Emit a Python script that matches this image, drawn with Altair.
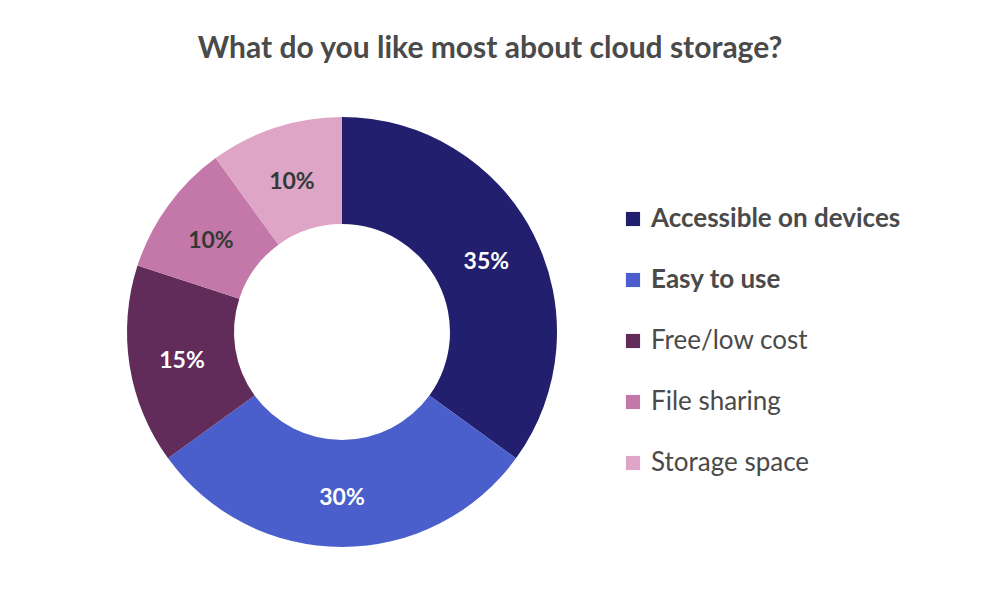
import altair as alt
import pandas as pd

categories = ["Accessible on devices", "Easy to use", "Free/low cost", "File sharing", "Storage space"]
shares = [35, 30, 15, 10, 10]
colors = ["#221f6e", "#4a5fcb", "#612c5a", "#c477a9", "#dea5c6"]
emphasised = ["Accessible on devices", "Easy to use"]

df = pd.DataFrame({"category": categories, "share": shares, "order": list(range(len(categories)))})
df["label"] = df["share"].astype(str) + "%"

FONT = "Lato"

base = alt.Chart(df).encode(
    theta=alt.Theta("share:Q", stack=True),
    order=alt.Order("order:Q"),
)

arcs = base.mark_arc(outerRadius=215, innerRadius=108, stroke=None).encode(
    color=alt.Color(
        "category:N",
        scale=alt.Scale(domain=categories, range=colors),
        sort=categories,
        legend=alt.Legend(
            title=None,
            orient="none",
            legendX=620,
            legendY=149,
            symbolType="square",
            symbolSize=200,
            symbolStrokeWidth=0,
            labelFont=FONT,
            labelFontSize=26,
            labelColor="#4a4a4a",
            labelFontWeight=alt.ExprRef(
                "indexof(['Accessible on devices','Easy to use'], datum.value) >= 0 ? 'bold' : 'normal'"
            ),
            rowPadding=35,
            labelOffset=5,
            labelLimit=400,
        ),
    )
)

texts = base.mark_text(radius=162, font=FONT, fontSize=23, fontWeight="bold", dy=4).encode(
    text="label:N",
    color=alt.condition(alt.datum.share >= 15, alt.value("white"), alt.value("#333a36")),
)

chart = (
    alt.layer(arcs, texts)
    .properties(
        width=684,
        height=550,
        padding={"left": 0, "top": 57, "right": 316, "bottom": 0},
        autosize=alt.AutoSizeParams(type="none"),
        title=alt.Title(
            "What do you like most about cloud storage?",
            font=FONT,
            fontSize=30,
            fontWeight="bold",
            color="#4a4a4a",
            anchor="middle",
            dx=148,
            dy=37,
            offset=0,
            baseline="bottom",
        ),
    )
    .configure_view(stroke=None)
    .configure(background="white")
)

chart.save("out.html", embed_options={"renderer": "svg", "actions": False})
